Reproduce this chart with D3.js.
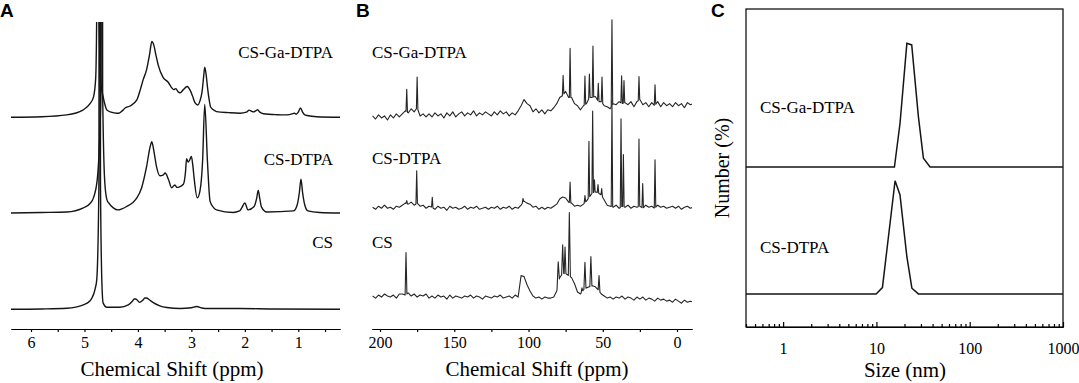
<!DOCTYPE html>
<html>
<head>
<meta charset="utf-8">
<script src="https://cdn.jsdelivr.net/npm/d3@7"></script>
<style>
  body { margin: 0; background: #fff; }
  svg text { font-family: "Liberation Serif", "Times New Roman", serif; fill: #000; }
  .letter { font-family: "Liberation Sans", Arial, sans-serif !important; font-weight: bold; font-size: 19px; }
</style>
</head>
<body>
<svg id="fig" width="1079" height="383"></svg>
<script>
// ---------- panel A : 1H NMR, [ppm, intensity a.u.] ----------
let hGa = [[6.40,0],[5.80,0.5],[5.33,2.3],[5.03,7],[4.90,13],[4.83,20],[4.79,38],[4.765,140],[4.75,1500],[4.735,140],
  [4.69,32],[4.65,20],[4.61,11],[4.58,7],[4.50,5],[4.40,4],[4.36,4],[4.30,6],[4.24,9],[4.15,11],[4.02,17],[3.95,28],
  [3.90,37],[3.84,46],[3.78,62],[3.74,74],[3.70,70],[3.66,60],[3.62,51],[3.53,39],[3.43,34],[3.37,29],[3.33,27],
  [3.29,28],[3.25,25],[3.21,24],[3.15,27],[3.08,30],[3.02,26],[2.98,21],[2.93,14],[2.88,12],[2.84,16],[2.80,25],
  [2.77,40],[2.75,49],[2.72,40],[2.70,30],[2.67,18],[2.64,10],[2.58,7],[2.53,5.5],[2.30,4.5],[2.09,4],[1.97,5],
  [1.92,7],[1.88,6],[1.84,5.3],[1.79,6.5],[1.76,7.3],[1.72,5],[1.65,3.5],[1.40,2.5],[1.22,2.3],[1.10,3.5],[1.07,4],
  [1.04,3],[1.00,5],[0.96,9],[0.92,5],[0.88,2.3],[0.75,1],[0.66,0.5],[0.22,0]];
let hDtpa = [[6.40,0],[5.80,0.5],[5.33,1],[5.02,5],[4.90,9],[4.83,15],[4.76,33],[4.69,120],[4.675,1500],[4.66,120],
  [4.62,30],[4.58,13],[4.55,10],[4.46,5],[4.37,3],[4.30,4],[4.21,6.3],[4.10,10],[4.02,14.7],[3.93,24.7],[3.84,44.7],
  [3.77,65],[3.74,69.7],[3.70,60],[3.65,44.7],[3.59,36.3],[3.53,37],[3.49,39],[3.43,33],[3.37,24.7],[3.31,27.3],
  [3.27,25],[3.23,25.3],[3.15,28],[3.11,40],[3.09,53],[3.06,49.7],[3.03,52],[3.00,55.3],[2.97,45],[2.95,34.7],
  [2.89,14.7],[2.84,21.3],[2.79,51],[2.75,106],[2.70,51],[2.65,11.3],[2.58,5],[2.53,3],[2.22,0.5],[2.10,2],[2.06,4.7],
  [2.00,9.7],[1.94,3],[1.83,6],[1.78,14],[1.75,22],[1.72,14],[1.69,6],[1.59,1],[1.09,2],[1.02,8],[0.98,20],[0.95,33],
  [0.92,20],[0.88,8],[0.82,2],[0.60,0.5],[0.22,0]];
let hCs = [[6.40,0],[5.80,0.3],[5.33,1],[5.02,4.3],[4.90,8],[4.86,11],[4.80,20],[4.77,29],[4.73,120],[4.715,1500],
  [4.70,120],[4.67,20],[4.65,6],[4.58,2],[4.34,2],[4.18,4.3],[4.10,8],[4.07,10],[4.04,10],[4.02,9.3],[3.97,6.7],
  [3.91,8.7],[3.87,11],[3.84,11],[3.78,9],[3.72,6.7],[3.59,3.3],[3.46,1.7],[3.21,0.7],[3.00,1.5],[2.90,2.7],
  [2.80,1.2],[2.71,0.7],[2.09,0.7],[1.50,0.3],[0.22,0]];
let hNames = ["CS-Ga-DTPA", "CS-DTPA", "CS"];
let hOffsets = [206.9, 113.4, 19.3];
let hTicks = [6, 5, 4, 3, 2, 1];
let hMinor = [5.5, 4.5, 3.5, 2.5, 1.5, 0.5];

// ---------- panel B : 13C NMR, baseline sampled every 2 ppm from 205 ppm, plus sharp lines [ppm, height, half width] ----------
let cGridStart = 205, cGridStep = 2;
let cGaBase = [1,-2,2,-1,1,-3,2,-1,3,0, 3,6,4,8,5,9,1,3,0,3, 0,4,1,3,-1,4,1,5,0,3, 5,1,4,2,6,1,4,2,5,3,
  1,5,2,6,3,5,1,4,2,6, 11,17,13,11,5,8,4,7,3,7, 6,9,13,19,21,25,19,19,13,11, 7,11,13,19,19,20,15,15,11,10,
  8,13,12,15,13,14,12,15,10,15, 17,12,14,10,14,11,15,10,14,11, 13,10,14,11,13,9,14,12,13];
let cDtpaBase = [0,-2,1,-1,2,-1,0,-2,1,0, 2,4,3,5,2,4,1,2,-1,1, 0,-2,1,-1,0,-3,1,-1,0,-2, -1,1,-2,0,-1,1,-2,-1,0,-2,
  0,-1,1,-2,0,-1,1,-2,0,-1, 2,6,4,3,0,1,-2,0,-2,0, -1,1,3,8,10,9,5,4,1,2, 1,3,6,10,14,15,14,12,7,2,
  1,0,2,-1,1,0,2,-1,1,0, 1,-1,2,0,1,-1,2,0,1,-1, 0,1,-1,1,-2,0,1,-1,0];
let cCsBase = [0,-2,1,-1,2,0,-1,1,-2,2, 2,1,3,0,2,-1,1,0,2,-2, 0,-2,1,-1,0,-3,1,-2,0,-1, -2,0,-1,1,-2,0,-1,-3,0,-1,
  -2,0,-1,1,-2,-1,0,-2,1,-1, 20,19,11,5,0,-2,-1,-3,-1,-2, -2,-1,5,18,22,22,20,18,12,4, 2,6,8,9,10,9,6,2,0,-2,
  -1,-3,-1,-2,0,-3,-1,-2,-4,-1, -3,-1,-4,-2,-3,-5,-2,-4,-3,-5, -4,-6,-3,-5,-7,-4,-6,-5,-6];
let cGaPeaks = [[182,22],[175,30],[76.7,19],[72,48],[62,28],[59,23],[56.6,50],[53,18],[50.5,25],[43.8,84],
  [37.3,27],[35.7,22],[25.6,23],[14.8,20]];
let cDtpaPeaks = [[182,3],[175.3,32],[164.8,10],[103.7,4],[72,20],[62,7],[59.3,55],[56.8,80],[55.6,12],[53.2,8],
  [50.7,7],[43.8,104],[37.7,86],[36.1,51],[25.6,66],[23.1,24],[14.8,47]];
let cCsPeaks = [[182.5,41,0.6],[80,22,0.8],[77,28,0.7],[75.4,26,0.6],[72.5,62,0.7],[64,4,0.6],[62,26,0.7],
  [58,29,0.7],[52.5,15,0.6]];
let cNames = ["CS-Ga-DTPA", "CS-DTPA", "CS"];
let cOffsets = [207.2, 119, 32.2];
let cTicks = [200, 150, 100, 50, 0];
let cMinor = [175, 125, 75, 25];

// ---------- panel C : DLS number distribution ----------
let sizeGa = [0.4, 15.6, 17.9, 21.2, 23.9, 28.2, 31.9, 37.6, 1000];
let numGa = [0, 0, 13.7, 38.9, 38.4, 15.8, 2.8, 0, 0];
let sizeDtpa = [0.4, 9.93, 11.6, 15.85, 17.9, 21.2, 24.0, 28.2, 1000];
let numDtpa = [0, 0, 2, 35.6, 31.1, 11.7, 1.8, 0, 0];
let dlsNames = ["CS-Ga-DTPA", "CS-DTPA"];
let dlsOffsets = [50.3, 10.4];
let dlsTicks = [1, 10, 100, 1000];
let dlsMinor = [0.4,0.5,0.6,0.7,0.8,0.9, 2,3,4,5,6,7,8,9, 20,30,40,50,60,70,80,90, 200,300,400,500,600,700,800,900];


let svg = d3.select("#fig");
let lineColor = "#151515";
let serif = "'Liberation Serif', 'Times New Roman', serif";

function addClip(id, x0, y0, x1, y1) {
    svg.append("clipPath").attr("id", id).append("rect")
        .attr("x", x0).attr("y", y0).attr("width", x1 - x0).attr("height", y1 - y0);
}

function styleAxis(g) {
    g.attr("font-family", serif).attr("font-size", 16);
    g.selectAll("path, line").attr("stroke", "#000").attr("stroke-width", 1.2);
    g.selectAll("text").attr("fill", "#000").style("font-family", serif).style("font-size", "16px");
}

// turn a sampled baseline + line list into one trace
function buildSpectrum(base, peaks) {
    let baseAt = function(p) {
        let t = (cGridStart - p) / cGridStep;
        let i = Math.max(0, Math.min(base.length - 2, Math.floor(t)));
        let f = t - i;
        return base[i] * (1 - f) + base[i + 1] * f;
    };
    let pts = base.map((v, i) => [cGridStart - i * cGridStep, v]);
    pts = pts.filter(d => !peaks.some(pk => Math.abs(pk[0] - d[0]) < (pk[2] || 0.5) + 0.05));
    peaks.forEach(pk => {
        let w = pk[2] || 0.5;
        pts.push([pk[0] + w, baseAt(pk[0] + w)], [pk[0], baseAt(pk[0]) + pk[1]], [pk[0] - w, baseAt(pk[0] - w)]);
    });
    return pts.sort((a, b) => b[0] - a[0]);
}

// ======== A ========
let ax = d3.scaleLinear().domain([6.374, 0.22]).range([11, 340]);
let ay = d3.scaleLinear().domain([0, 300]).range([329, 22]);
addClip("clipA", 11, 22, 340, 330);

let aLine = d3.line().x(d => ax(d[0])).y(d => ay(d[1])).curve(d3.curveMonotoneX);
let gA = svg.append("g");
[hGa, hDtpa, hCs].forEach((s, i) => {
    gA.append("path")
        .datum(s.map(d => [d[0], d[1] + hOffsets[i]]))
        .attr("d", aLine)
        .attr("fill", "none")
        .attr("stroke", lineColor)
        .attr("stroke-width", 1.4)
        .attr("clip-path", "url(#clipA)");
});

let axisA = gA.append("g").attr("transform", "translate(0,329)")
    .call(d3.axisBottom(ax).tickValues(hTicks).tickSize(3).tickSizeOuter(0).tickPadding(5).tickFormat(d3.format("d")));
styleAxis(axisA);
let minorA = gA.append("g").attr("transform", "translate(0,329)")
    .call(d3.axisBottom(ax).tickValues(hMinor).tickSize(3).tickSizeOuter(0).tickFormat(""));
styleAxis(minorA);

let aLabelY = [58, 165, 248];
hNames.forEach((n, i) => {
    gA.append("text").attr("x", 333).attr("y", aLabelY[i]).attr("text-anchor", "end")
        .attr("font-size", 17).text(n);
});
gA.append("text").attr("x", 172).attr("y", 376).attr("text-anchor", "middle")
    .attr("font-size", 21).text("Chemical Shift (ppm)");
gA.append("text").attr("class", "letter").attr("x", 0).attr("y", 17).text("A");

// ======== B ========
let bx = d3.scaleLinear().domain([205.4, -10.1]).range([372, 692]);
let by = d3.scaleLinear().domain([0, 300]).range([329, 22]);
addClip("clipB", 372, 2, 692, 330);

let bLine = d3.line().x(d => bx(d[0])).y(d => by(d[1]));
let gB = svg.append("g");
let cSpectra = [buildSpectrum(cGaBase, cGaPeaks), buildSpectrum(cDtpaBase, cDtpaPeaks), buildSpectrum(cCsBase, cCsPeaks)];
cSpectra.forEach((s, i) => {
    gB.append("path")
        .datum(s.map(d => [d[0], d[1] + cOffsets[i]]))
        .attr("d", bLine)
        .attr("fill", "none")
        .attr("stroke", "#262626")
        .attr("stroke-width", 1.1)
        .attr("stroke-linejoin", "round")
        .attr("clip-path", "url(#clipB)");
});

let axisB = gB.append("g").attr("transform", "translate(0,329)")
    .call(d3.axisBottom(bx).tickValues(cTicks).tickSize(3).tickSizeOuter(0).tickPadding(5).tickFormat(d3.format("d")));
styleAxis(axisB);
let minorB = gB.append("g").attr("transform", "translate(0,329)")
    .call(d3.axisBottom(bx).tickValues(cMinor).tickSize(3).tickSizeOuter(0).tickFormat(""));
styleAxis(minorB);

let bLabelY = [58, 164, 248];
cNames.forEach((n, i) => {
    gB.append("text").attr("x", 372).attr("y", bLabelY[i]).attr("font-size", 17).text(n);
});
gB.append("text").attr("x", 537).attr("y", 376).attr("text-anchor", "middle")
    .attr("font-size", 21).text("Chemical Shift (ppm)");
gB.append("text").attr("class", "letter").attr("x", 356).attr("y", 17).text("B");

// ======== C ========
let cx = d3.scaleLog().domain([0.4, 1000]).range([746, 1063]);
let cy = d3.scaleLinear().domain([0, 100]).range([327, 9]);
let gC = svg.append("g");

gC.append("rect").attr("x", cx(0.4)).attr("y", cy(100))
    .attr("width", cx(1000) - cx(0.4)).attr("height", cy(0) - cy(100))
    .attr("fill", "none").attr("stroke", "#000").attr("stroke-width", 1.2);

let cLine = d3.line().x(d => cx(d[0])).y(d => cy(d[1]));
[[sizeGa, numGa], [sizeDtpa, numDtpa]].forEach((s, i) => {
    gC.append("path")
        .datum(s[0].map((v, j) => [v, s[1][j] + dlsOffsets[i]]))
        .attr("d", cLine)
        .attr("fill", "none")
        .attr("stroke", lineColor)
        .attr("stroke-width", 1.5);
});

let axisC = gC.append("g").attr("transform", "translate(0,327)")
    .call(d3.axisBottom(cx).tickValues(dlsTicks).tickSize(-5).tickSizeOuter(0).tickPadding(16).tickFormat(d3.format("d")));
styleAxis(axisC);
let minorC = gC.append("g").attr("transform", "translate(0,327)")
    .call(d3.axisBottom(cx).tickValues(dlsMinor).tickSize(-3).tickSizeOuter(0).tickFormat(""));
styleAxis(minorC);

let cLabelY = [113, 253];
dlsNames.forEach((n, i) => {
    gC.append("text").attr("x", 760).attr("y", cLabelY[i]).attr("font-size", 17).text(n);
});
gC.append("text").attr("x", 905).attr("y", 377).attr("text-anchor", "middle")
    .attr("font-size", 21).text("Size (nm)");
gC.append("text").attr("transform", "translate(729,168) rotate(-90)").attr("text-anchor", "middle")
    .attr("font-size", 20).text("Number (%)");
gC.append("text").attr("class", "letter").attr("x", 711).attr("y", 17).text("C");
</script>
</body>
</html>
